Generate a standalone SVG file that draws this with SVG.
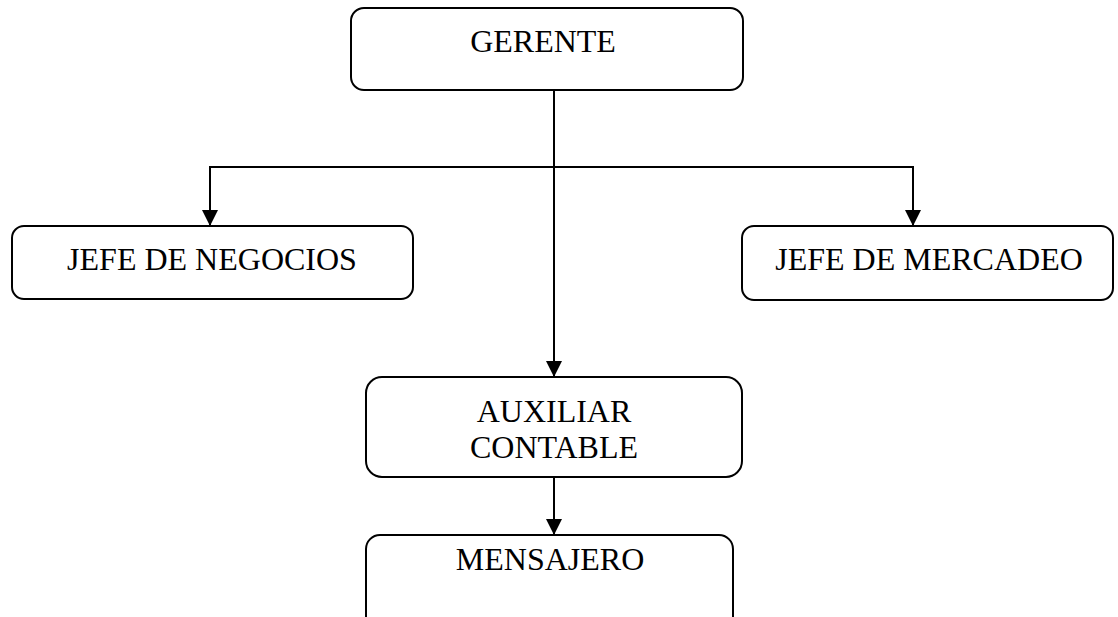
<svg xmlns="http://www.w3.org/2000/svg" width="1118" height="617" viewBox="0 0 1118 617">
  <style>
    .box { fill: #ffffff; stroke: #000000; stroke-width: 2; }
    .lbl { font-family: "Liberation Serif", "Times New Roman", serif; font-size: 32px; fill: #000000; text-anchor: middle; }
    .ln { stroke: #000000; stroke-width: 2; fill: none; }
  </style>
  <defs>
    <marker id="arr" markerUnits="userSpaceOnUse" markerWidth="16" markerHeight="18" refX="15" refY="8" orient="auto">
      <path d="M0,0 L16,8 L0,16 Z" fill="#000000"/>
    </marker>
  </defs>
  <rect width="1118" height="617" fill="#ffffff"/>
  <g id="connectors">
    <line class="ln" x1="554" y1="91" x2="554" y2="376" marker-end="url(#arr)"/>
    <polyline class="ln" points="210,225 210,167 913,167 913,225" />
    <line class="ln" x1="210" y1="167" x2="210" y2="225" marker-end="url(#arr)"/>
    <line class="ln" x1="913" y1="167" x2="913" y2="225" marker-end="url(#arr)"/>
    <line class="ln" x1="554" y1="478" x2="554" y2="534" marker-end="url(#arr)"/>
  </g>
  <g id="gerente">
    <rect class="box" x="351" y="8" width="392" height="82" rx="13"/>
    <text class="lbl" x="543" y="52">GERENTE</text>
  </g>
  <g id="jefe-negocios">
    <rect class="box" x="12" y="226" width="401" height="73" rx="12"/>
    <text class="lbl" x="212" y="270">JEFE DE NEGOCIOS</text>
  </g>
  <g id="jefe-mercadeo">
    <rect class="box" x="742" y="226" width="371" height="74" rx="12"/>
    <text class="lbl" x="929" y="270">JEFE DE MERCADEO</text>
  </g>
  <g id="auxiliar">
    <rect class="box" x="366" y="377" width="376" height="100" rx="16"/>
    <text class="lbl" x="554" y="422">AUXILIAR</text>
    <text class="lbl" x="554" y="458">CONTABLE</text>
  </g>
  <g id="mensajero">
    <rect class="box" x="366" y="535" width="367" height="100" rx="14"/>
    <text class="lbl" x="550" y="570">MENSAJERO</text>
  </g>
</svg>
